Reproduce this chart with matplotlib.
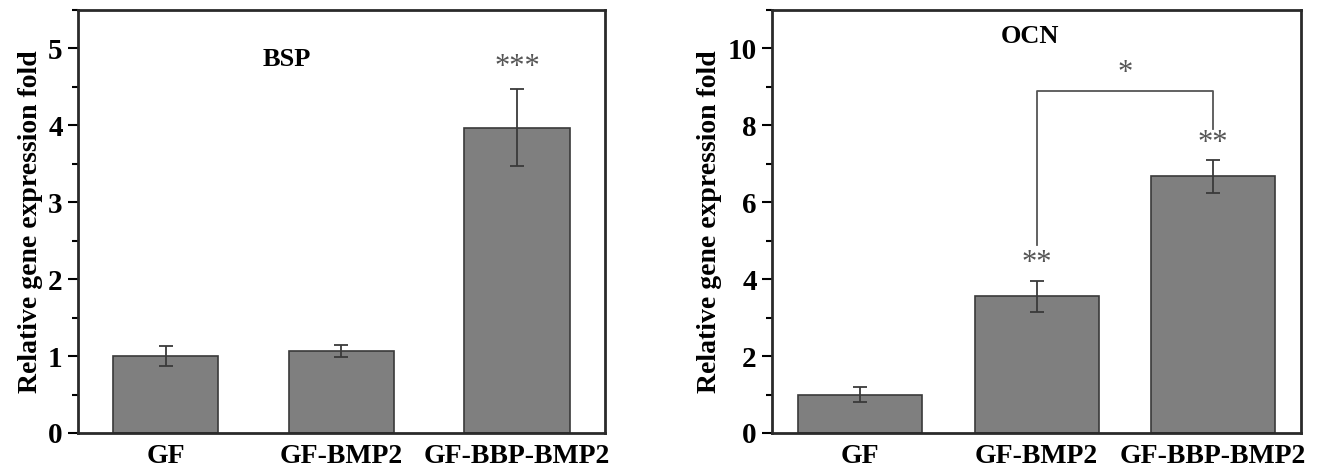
import matplotlib
matplotlib.use("Agg")
import matplotlib.pyplot as plt
from matplotlib.ticker import MultipleLocator

plt.rcParams['font.family'] = ['Liberation Serif', 'DejaVu Serif']

categories = ["GF", "GF-BMP2", "GF-BBP-BMP2"]
bsp_values = [1.00, 1.07, 3.97]
bsp_errors = [0.13, 0.08, 0.50]
ocn_values = [1.00, 3.55, 6.67]
ocn_errors = [0.19, 0.41, 0.42]
bsp_marks = ["", "", "***"]
ocn_marks = ["", "**", "**"]

fig = plt.figure(figsize=(13.26, 4.73), dpi=100)
ax1 = fig.add_axes([0.0588, 0.0846, 0.3974, 0.8943])
ax2 = fig.add_axes([0.5822, 0.0846, 0.3993, 0.8943])

bar_color = "#7f7f7f"
edge_color = "#3a3a3a"
err_color = "#3a3a3a"
mark_color = "#555555"

def draw(ax, vals, errs, width, ylim, major, minor, title, title_xy, marks, mark_gap):
    x = list(range(len(categories)))
    ax.bar(x, vals, width=width, color=bar_color, edgecolor=edge_color, linewidth=1.2, zorder=2)
    ax.errorbar(x, vals, yerr=errs, fmt='none', ecolor=err_color, elinewidth=1.3,
                capsize=5, capthick=1.3, zorder=3)
    ax.set_xlim(-0.5, 2.5)
    ax.set_ylim(*ylim)
    ax.yaxis.set_major_locator(MultipleLocator(major))
    ax.yaxis.set_minor_locator(MultipleLocator(minor))
    ax.set_xticks(x)
    ax.set_xticklabels(categories, fontsize=20, fontweight='bold')
    ax.tick_params(axis='x', length=0, pad=8)
    ax.tick_params(axis='y', which='major', length=7, width=1.5, labelsize=21, direction='out', pad=4)
    ax.tick_params(axis='y', which='minor', length=4, width=1.5, direction='out')
    for lab in ax.get_yticklabels():
        lab.set_fontweight('bold')
    for s in ax.spines.values():
        s.set_linewidth(2)
        s.set_color("#2a2a2a")
    ax.set_ylabel("Relative gene expression fold", fontsize=20, fontweight='bold', labelpad=4)
    ax.text(title_xy[0], title_xy[1], title, fontsize=19, fontweight='bold',
            ha='center', va='center')
    for xi, v, e, m in zip(x, vals, errs, marks):
        if m:
            ax.text(xi, v + e + mark_gap, m, ha='center', va='center',
                    fontsize=22, color=mark_color)

draw(ax1, bsp_values, bsp_errors, 0.6, (0, 5.5), 1, 0.5, "BSP", (0.69, 4.85), bsp_marks, 0.28)
draw(ax2, ocn_values, ocn_errors, 0.7, (0, 11), 2, 1, "OCN", (0.96, 10.3), ocn_marks, 0.45)

# significance bracket between GF-BMP2 and GF-BBP-BMP2
bracket_top = 8.9
ax2.plot([1, 1, 2, 2], [4.9, bracket_top, bracket_top, 7.9], color="#555555", lw=1.3, zorder=3)
ax2.text(1.5, bracket_top + 0.45, "*", ha='center', va='center', fontsize=22, color=mark_color)

fig.savefig("out.png", dpi=100)
